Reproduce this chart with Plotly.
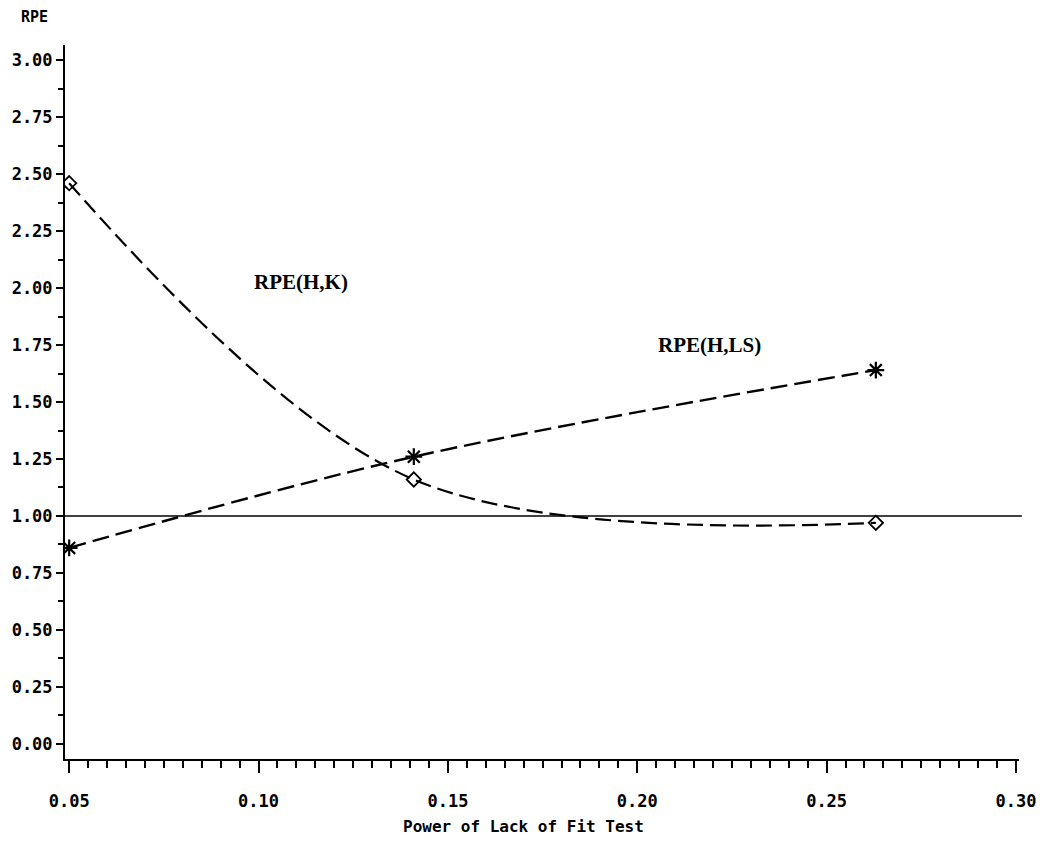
import plotly.graph_objects as go

power = [0.05, 0.141, 0.263]
rpe_hk = [2.46, 1.16, 0.97]
rpe_hls = [0.86, 1.26, 1.64]

x_ticks = [0.05, 0.10, 0.15, 0.20, 0.25, 0.30]
x_labels = ["0.05", "0.10", "0.15", "0.20", "0.25", "0.30"]
y_ticks = [0.00, 0.25, 0.50, 0.75, 1.00, 1.25, 1.50, 1.75, 2.00, 2.25, 2.50, 2.75, 3.00]
y_labels = ["%.2f" % v for v in y_ticks]

mono = "DejaVu Sans Mono"

fig = go.Figure()
fig.add_trace(go.Scatter(
    x=power, y=rpe_hk, mode="lines+markers", line_shape="spline",
    line=dict(color="black", width=2.2, dash="16px,7px"),
    marker=dict(symbol="diamond-open", size=11, color="black", line=dict(width=1.8)),
    showlegend=False))
fig.add_trace(go.Scatter(
    x=power, y=rpe_hls, mode="lines+markers", line_shape="spline",
    line=dict(color="black", width=2.4, dash="17px,7px"),
    marker=dict(symbol="asterisk-open", size=14, color="black", line=dict(width=2.2)),
    showlegend=False))

fig.add_shape(type="line", xref="x domain", x0=0, x1=1.003, yref="y", y0=1, y1=1,
              line=dict(color="black", width=1.5))

fig.add_annotation(x=0.1113, y=2.026, text="<b>RPE(H,K)</b>", showarrow=False,
                   font=dict(family="Liberation Serif", size=21, color="black"))
fig.add_annotation(x=0.2192, y=1.75, text="<b>RPE(H,LS)</b>", showarrow=False,
                   font=dict(family="Liberation Serif", size=21, color="black"))
fig.add_annotation(xref="paper", yref="paper", x=-0.032, y=1.039, xanchor="center",
                   yanchor="middle", text="<b>RPE</b>", showarrow=False,
                   font=dict(family=mono, size=15, color="black"))
fig.add_annotation(xref="paper", yref="paper", x=0.481, y=-0.095, xanchor="center",
                   yanchor="middle", text="<b>Power of Lack of Fit Test</b>", showarrow=False,
                   font=dict(family=mono, size=16, color="black"))

fig.update_xaxes(range=[0.0489, 0.3008], tickvals=x_ticks, ticktext=x_labels,
                 showgrid=False, zeroline=False, showline=True, linecolor="black",
                 linewidth=2, ticks="outside", ticklen=12, tickwidth=2, tickcolor="black",
                 ticklabelstandoff=14,
                 tickfont=dict(family=mono, size=17, color="black", weight="bold"),
                 minor=dict(dtick=0.005, tick0=0.05, ticks="outside", ticklen=7,
                            tickwidth=2, tickcolor="black", showgrid=False))
fig.update_yaxes(range=[-0.066, 3.066], tickvals=y_ticks, ticktext=y_labels,
                 showgrid=False, zeroline=False, showline=True, linecolor="black",
                 linewidth=2, ticks="outside", ticklen=7, tickwidth=2, tickcolor="black",
                 tickfont=dict(family=mono, size=17, color="black", weight="bold"),
                 minor=dict(dtick=0.125, tick0=0, ticks="outside", ticklen=5,
                            tickwidth=2, tickcolor="black", showgrid=False))

fig.update_layout(width=1048, height=866, margin=dict(l=61, r=28, t=45, b=107),
                  plot_bgcolor="white", paper_bgcolor="white")

fig.write_html("out.html")
